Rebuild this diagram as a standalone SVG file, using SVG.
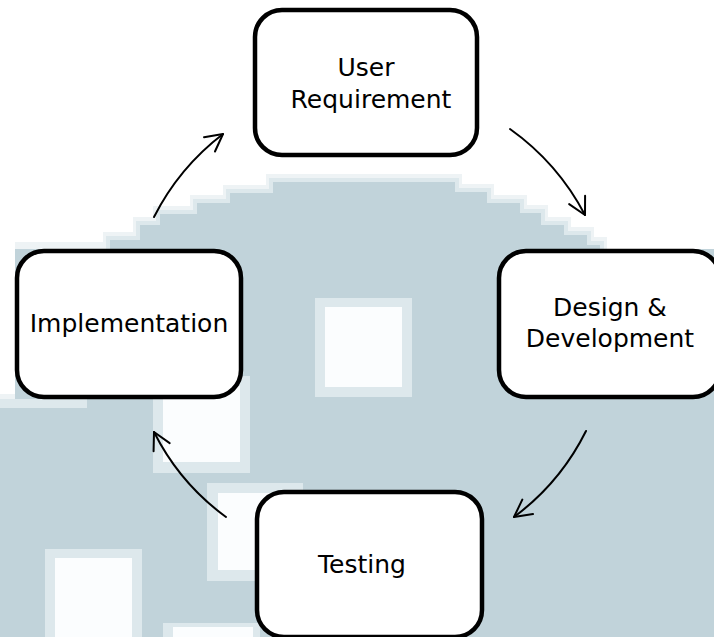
<svg xmlns="http://www.w3.org/2000/svg" width="714" height="637" viewBox="0 0 714 637">
  <style>
    .box { fill: #ffffff; stroke: #000000; stroke-width: 4.5; }
    .lbl { font-family: "DejaVu Sans", "Open Sans", sans-serif; font-size: 25px; fill: #000000; text-anchor: middle; }
    .conn { fill: none; stroke: #000000; stroke-width: 2; stroke-linecap: round; }
    .bg { fill: #c1d3da; }
    .bgl { fill: #dde8ec; }
    .bgf { fill: #eef3f5; }
    .wh { fill: #fbfdfe; }
  </style>
  <defs>
    <marker id="ah" viewBox="-22 -12 24 24" refX="0" refY="0" markerWidth="24" markerHeight="24" markerUnits="userSpaceOnUse" orient="auto">
      <path d="M-17,-9 L0,0 L-17,9" fill="none" stroke="#000000" stroke-width="2" stroke-linecap="round" stroke-linejoin="round"/>
    </marker>
  </defs>

  <rect x="0" y="0" width="714" height="637" fill="#ffffff"/>

  <g id="background">
    <path class="bgf" d="M0,394 H15 V242 H103 V232 H133 V217 H153 V206 H190 V195 H223 V185 H266 V174 H462 V184 H494 V195 H527 V205 H548 V217 H571 V227 H594 V237 H607 V249 H714 V637 H0 Z"/>
    <path class="bgl" d="M0,400 H15 V249 H106 V236 H136 V221 H156 V210 H193 V199 H226 V189 H269 V178 H459 V188 H491 V199 H524 V209 H545 V221 H568 V231 H591 V241 H604 V249 H714 V637 H0 Z"/>
    <path class="bg" d="M0,408 H15 V249 H110 V240 H140 V225 H160 V214 H197 V203 H230 V193 H273 V182 H455 V192 H487 V203 H520 V213 H541 V225 H564 V235 H587 V245 H600 V249 H714 V637 H0 Z"/>
    <rect class="bgl" x="0" y="399" width="87" height="9"/>
    <rect class="bgl" x="315" y="298" width="97" height="99"/>
    <rect class="wh" x="325" y="307" width="77" height="80"/>
    <rect class="bgl" x="153" y="376" width="97" height="97"/>
    <rect class="wh" x="163" y="386" width="77" height="76"/>
    <rect class="bgl" x="207" y="483" width="96" height="98"/>
    <rect class="wh" x="218" y="493" width="75" height="77"/>
    <rect class="bgl" x="45" y="549" width="97" height="88"/>
    <rect class="wh" x="55" y="558" width="77" height="79"/>
    <rect class="bgl" x="163" y="623" width="97" height="14"/>
    <rect class="wh" x="173" y="627" width="80" height="10"/>
  </g>

  <g id="connectors">
    <path class="conn" d="M154,217 A243,243 0 0,1 223,134" marker-end="url(#ah)"/>
    <path class="conn" d="M510,129 A245,245 0 0,1 585,215" marker-end="url(#ah)"/>
    <path class="conn" d="M586,431 A240,240 0 0,1 514,517" marker-end="url(#ah)"/>
    <path class="conn" d="M226,517 A237,237 0 0,1 154,432" marker-end="url(#ah)"/>
  </g>

  <g id="node-user-requirement">
    <rect class="box" x="255" y="10" width="222" height="145" rx="27" ry="27"/>
    <text class="lbl" x="366" y="76">User</text>
    <text class="lbl" x="371" y="108">Requirement</text>
  </g>

  <g id="node-design-development">
    <rect class="box" x="499" y="251" width="221" height="146" rx="27" ry="27"/>
    <text class="lbl" x="610" y="316">Design &amp;</text>
    <text class="lbl" x="610" y="347">Development</text>
  </g>

  <g id="node-testing">
    <rect class="box" x="257" y="492" width="225" height="145" rx="27" ry="27"/>
    <text class="lbl" x="362" y="573">Testing</text>
  </g>

  <g id="node-implementation">
    <rect class="box" x="17" y="251" width="224" height="146" rx="27" ry="27"/>
    <text class="lbl" x="129" y="332">Implementation</text>
  </g>
</svg>
